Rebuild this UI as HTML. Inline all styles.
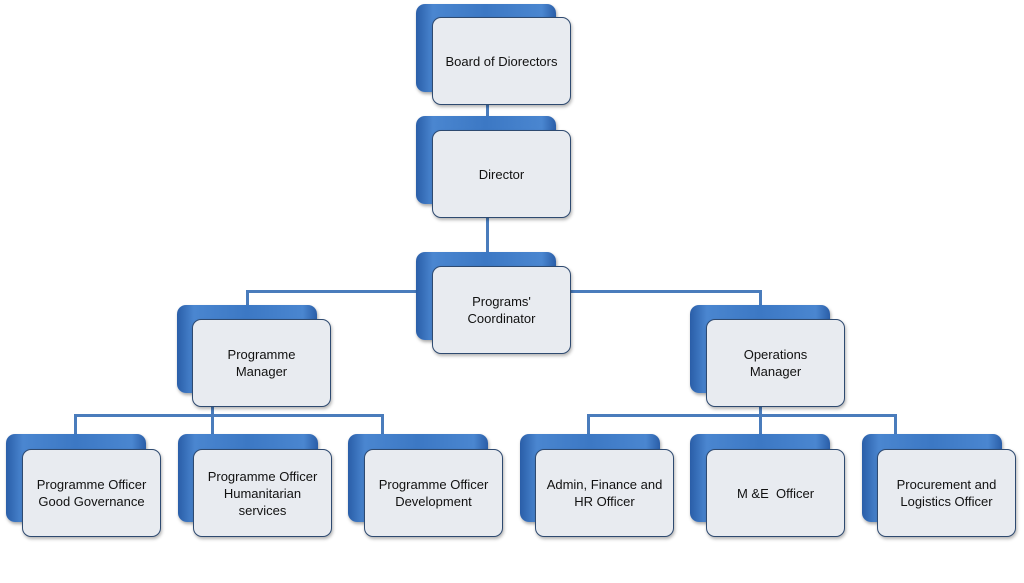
<!DOCTYPE html>
<html><head><style>
body{margin:0;width:1024px;height:583px;background:#fff;position:relative;overflow:hidden;font-family:"Liberation Sans",sans-serif}
.b{position:absolute;width:140px;height:88px;border-radius:9px;background:linear-gradient(90deg,#2a5ea8 0%,#4a86d0 12%,#3c78c4 50%,#4a86d0 90%,#2a5ea8 100%);box-shadow:1px 2px 3px rgba(0,0,0,.35)}
.f{position:absolute;width:137px;height:86px;border-radius:9px;background:#e8ebf0;border:1.5px solid #2e4a70;box-shadow:1px 2px 3px rgba(0,0,0,.3);display:flex;align-items:center;justify-content:center;text-align:center;font-size:13px;line-height:17px;color:#111}
.l{position:absolute;background:#4a7cbc}
</style></head><body>
<div class="l" style="left:486px;top:92px;width:3px;height:170px"></div>
<div class="l" style="left:246px;top:290px;width:516px;height:3px"></div>
<div class="l" style="left:246px;top:290px;width:3px;height:18px"></div>
<div class="l" style="left:759px;top:290px;width:3px;height:18px"></div>
<div class="l" style="left:74px;top:414px;width:310px;height:3px"></div>
<div class="l" style="left:74px;top:414px;width:3px;height:22px"></div>
<div class="l" style="left:211px;top:392px;width:3px;height:44px"></div>
<div class="l" style="left:381px;top:414px;width:3px;height:22px"></div>
<div class="l" style="left:587px;top:414px;width:310px;height:3px"></div>
<div class="l" style="left:587px;top:414px;width:3px;height:22px"></div>
<div class="l" style="left:759px;top:392px;width:3px;height:44px"></div>
<div class="l" style="left:894px;top:414px;width:3px;height:22px"></div>

<div class="b" style="left:416px;top:4px"></div><div class="f" style="left:432px;top:17px">Board of Diorectors</div>
<div class="b" style="left:416px;top:116px"></div><div class="f" style="left:432px;top:130px">Director</div>
<div class="b" style="left:416px;top:252px"></div><div class="f" style="left:432px;top:266px">Programs'<br>Coordinator</div>
<div class="b" style="left:177px;top:305px"></div><div class="f" style="left:192px;top:319px">Programme<br>Manager</div>
<div class="b" style="left:690px;top:305px"></div><div class="f" style="left:706px;top:319px">Operations<br>Manager</div>

<div class="b" style="left:6px;top:434px"></div><div class="f" style="left:22px;top:449px">Programme Officer<br>Good Governance</div>
<div class="b" style="left:178px;top:434px"></div><div class="f" style="left:193px;top:449px">Programme Officer<br>Humanitarian<br>services</div>
<div class="b" style="left:348px;top:434px"></div><div class="f" style="left:364px;top:449px">Programme Officer<br>Development</div>
<div class="b" style="left:520px;top:434px"></div><div class="f" style="left:535px;top:449px">Admin, Finance and<br>HR Officer</div>
<div class="b" style="left:690px;top:434px"></div><div class="f" style="left:706px;top:449px">M &amp;E&nbsp; Officer</div>
<div class="b" style="left:862px;top:434px"></div><div class="f" style="left:877px;top:449px">Procurement and<br>Logistics Officer</div>
</body></html>
